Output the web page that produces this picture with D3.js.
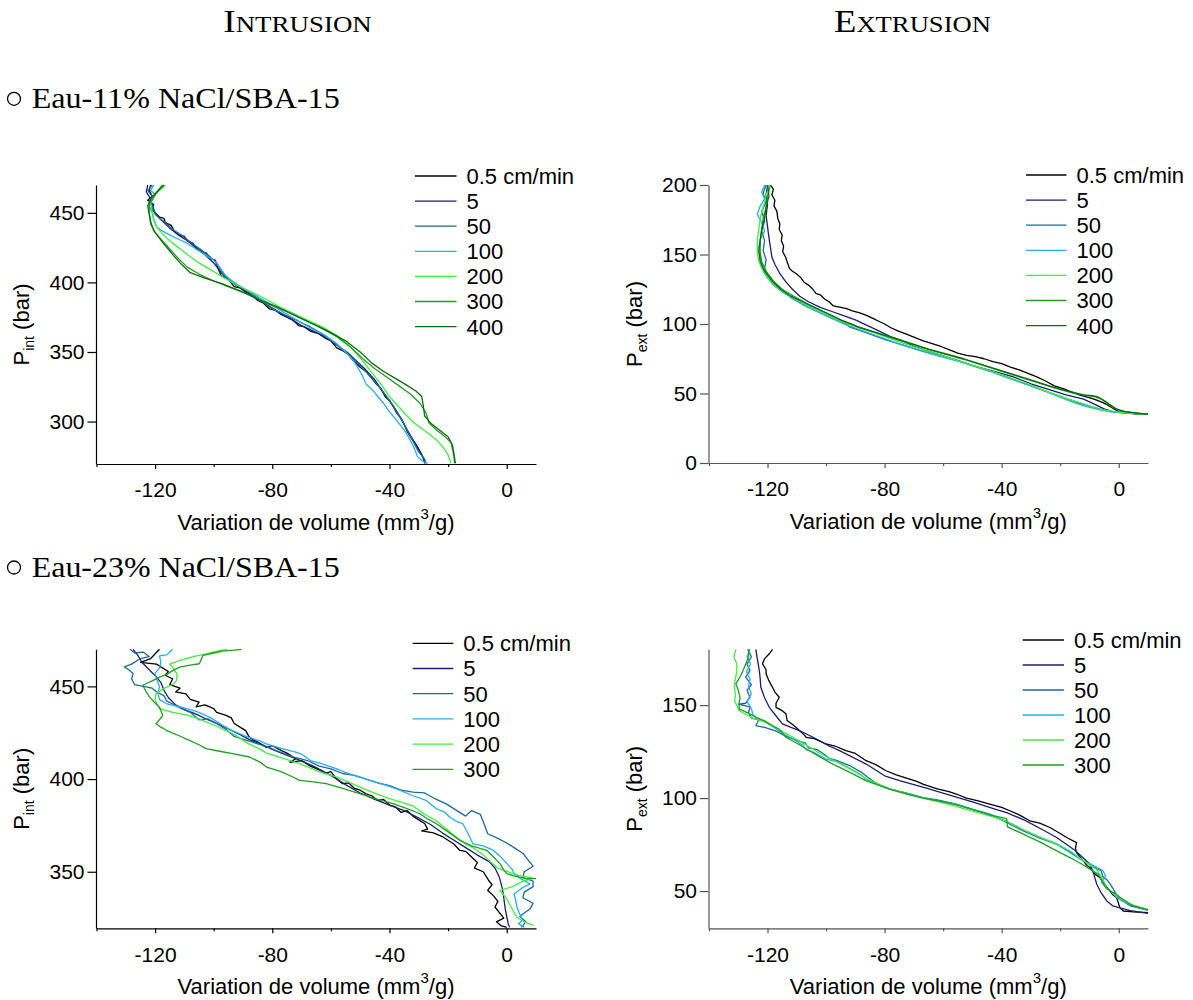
<!DOCTYPE html>
<html><head><meta charset="utf-8">
<script src="https://cdn.jsdelivr.net/npm/d3@7"></script>
<style>
body{margin:0;background:#fff}
svg{display:block}
</style>
</head><body>
<svg id="chart" width="1193" height="1000"></svg>
<script>
// ---------------- DATA ----------------
const speedLabels = ["0.5 cm/min","5","50","100","200","300","400"];
const xMajorTicks = [-120,-80,-40,0];
const xMinorTicks = [-140,-100,-60,-20];
const xDomain = [-140,10];
const yTicksIntru11 = [300,350,400,450];
const yTicksExtru11 = [0,50,100,150,200];
const yTicksIntru23 = [350,400,450];
const yTicksExtru23 = [50,100,150];
const yDomainIntru11 = [269.5,470];
const yDomainExtru11 = [0,200];
const yDomainIntru23 = [319.5,470];
const yDomainExtru23 = [30,180];

// Intrusion, Eau-11% NaCl  [volume variation, pressure]
const tl_05 = [[-121.5,470],[-122,466],[-121,462],[-122.5,459],[-120.5,456],[-121,452],[-119.5,449],[-118.5,447],[-117,446],[-116.5,443],[-114.5,441],[-113.5,437],[-112,434],[-110,433],[-109,430],[-107,428],[-106,424],[-104,422],[-102.5,421],[-101,417],[-99.5,416],[-98.5,410],[-97.5,405],[-95,402],[-93,397],[-91,396],[-89,393],[-87,391],[-85,387],[-83,385],[-81,381],[-79,380],[-77,377],[-75,375],[-73,373],[-71,369],[-69,368],[-67,365],[-64,363],[-62,360],[-60,358],[-58,353],[-56,351],[-54,348],[-52,343],[-50,339],[-48,336],[-46,331],[-44.5,327],[-43,324],[-41.5,318],[-40,315],[-38.5,310],[-37.5,306],[-36,302],[-35,298],[-34,293],[-32.5,288],[-31.5,285],[-30.5,282],[-29.5,278],[-28.5,274],[-28,270]];
const tl_5 = [[-122.5,470],[-123,465],[-121.5,460],[-121,455],[-120,450],[-118.5,446],[-117,443],[-115,439],[-112,434],[-109,430],[-106,425],[-103,420],[-100,414],[-97,406],[-94,400],[-90,395],[-86,390],[-82,384],[-78,379],[-74,374],[-70,369],[-66,365],[-62,361],[-58,355],[-54,349],[-51,343],[-48,337],[-45,330],[-42.5,322],[-40,315],[-38,309],[-36,302],[-34,294],[-32,287],[-30,280],[-28.5,274],[-27.5,270]];
const tl_50 = [[-121,470],[-122.5,466],[-121,462],[-122,458],[-120.5,453],[-120,449],[-118.5,446],[-116.5,443],[-114,438],[-111,434],[-108,429],[-106,426],[-104,423],[-101,418],[-99,414],[-97,407],[-95,402],[-92,398],[-88,393],[-84,387],[-80,381],[-76,377],[-72,373],[-67,368],[-63,363],[-59,357],[-55,350],[-52,344],[-49,338],[-46,331],[-43.5,325],[-41,318],[-39,312],[-37,305],[-35.5,300],[-34,294],[-32.5,288],[-31,282],[-30,278],[-28,273],[-27.5,270]];
const tl_100 = [[-120.5,470],[-121.5,466],[-120,463],[-121,459],[-122,455],[-121,450],[-120.5,445],[-119.5,440],[-117.5,437],[-115,434],[-112,431],[-109,428],[-106,424],[-103,420],[-100,416],[-98,411],[-96,405],[-93,400],[-90,396],[-86,391],[-82,386],[-78,381],[-74,376],[-70,371],[-66,366],[-62,362],[-58,356],[-55,350],[-52,343],[-49.5,334],[-48,327],[-45.5,322],[-44,318],[-42,313],[-40,307],[-38,302],[-36.5,298],[-35,294],[-33.5,289],[-32,283],[-31,278],[-30.5,275],[-29,272],[-27,270]];
const tl_200 = [[-116.5,470],[-118.5,466],[-120.5,462],[-121.5,457],[-121,452],[-120.5,446],[-119.5,440],[-117.5,435],[-115,430],[-112,425],[-109,420],[-105,414],[-101,409],[-97,404],[-93,399],[-88,394],[-83,389],[-78,383],[-73,378],[-68,373],[-63,368],[-58,362],[-54,355],[-50,346],[-46,335],[-43,327],[-40,318],[-37,311],[-34,304],[-31,298],[-27,292],[-24,287],[-21.5,281],[-20,276],[-19,270]];
const tl_300 = [[-117.5,470],[-119,466],[-120.5,461],[-122,456],[-122,450],[-121.5,444],[-120.5,437],[-118,431],[-115,424],[-112,417],[-109,411],[-105,406],[-100,401],[-94,396],[-88,391],[-82,385],[-76,380],[-70,374],[-64,368],[-58,361],[-53,353],[-49,345],[-45,338],[-41,332],[-37,326],[-33,320],[-29.5,313],[-27.5,306],[-26.5,299],[-24,294],[-21,289],[-19,285],[-18.5,280],[-18,275],[-17.8,270]];
const tl_400 = [[-117,470],[-119.5,465],[-121.5,460],[-122.5,455],[-122,449],[-121.5,442],[-120,436],[-117.5,429],[-114,420],[-111,413],[-108,407],[-103,403],[-97,399],[-91,394],[-85,388],[-79,383],[-73,377],[-67,371],[-61,365],[-55,358],[-50,350],[-46,342],[-42,336],[-38,331],[-34,326],[-31,322],[-29,318],[-28.5,312],[-28,304],[-26,299],[-23,294],[-20,289],[-18.5,283],[-18,277],[-17.5,270]];

// Extrusion, Eau-11% NaCl
const tr_05 = [[-119,200],[-118,197],[-118.5,193],[-117.5,189],[-117.8,185],[-116.8,181],[-116.5,176],[-115.8,172],[-116,168],[-115,164],[-115.3,160],[-114.5,156],[-114.8,152],[-113.8,148],[-113.2,144],[-112.5,140],[-111.5,138],[-110,136],[-108.5,133],[-107.5,130],[-106,128],[-104.5,125],[-103.5,122],[-102,121],[-100.5,118],[-99,116],[-97.5,113],[-95,112],[-93,111],[-91,109.5],[-88.5,108],[-86,106],[-84,104],[-82,102],[-80,100],[-78,97.5],[-75.5,95],[-73,93],[-70,90.5],[-67,88],[-64,86],[-61,84],[-58,81.5],[-55,79],[-52,77.5],[-49,76.5],[-46,75],[-43,73],[-40,71.5],[-37,69],[-34,67],[-31,64.5],[-28,62],[-25,59],[-22,55.5],[-19,53.5],[-16,51],[-13.5,49],[-11,47.5],[-8.5,46],[-6,44],[-4,42],[-2,39.5],[0,37],[3,36],[6,35.5],[10,35]];
const tr_5 = [[-120,200],[-120.5,193],[-120,186],[-120.5,178],[-120,170],[-119.5,162],[-119,155],[-118.5,148],[-117.5,143],[-116,137],[-114,131],[-111.5,125],[-109,120],[-106,116],[-102,112],[-98,109],[-94,106],[-90,103],[-86,99],[-82,95],[-78,91],[-74,88],[-70,84],[-66,81],[-60,77],[-54,73],[-48,69],[-42,65.5],[-36,62],[-30,57],[-24,53],[-18,49],[-12,46],[-8,42],[-5,39],[-2,37],[0,36.5],[5,35.5],[10,35]];
const tr_50 = [[-120.5,200],[-121.5,194],[-120.5,188],[-122,181],[-121,174],[-122,167],[-121,160],[-121.5,153],[-120.5,146],[-121,140],[-119.5,134],[-117.5,129],[-115,124],[-112,119],[-108,114],[-103,109],[-98,104],[-94,101],[-92,98],[-88,95],[-84,92],[-80,89],[-74,85],[-68,81],[-62,77.5],[-56,74.5],[-50,70],[-44,66],[-38,61.5],[-32,57],[-26,52.5],[-20,48],[-14,43.5],[-10,41],[-6,38.5],[-3,37],[0,36.5],[5,35.5],[10,35]];
const tr_100 = [[-121,200],[-122,195],[-121,190],[-122.5,185],[-123.5,179],[-122,173],[-121,167],[-122.5,161],[-123,155],[-122.5,149],[-122,143],[-121.5,138],[-120,133],[-118,128],[-115,123],[-111,118],[-106,112],[-100,106],[-94,100],[-88,95.5],[-82,91],[-76,86.5],[-70,82.5],[-64,78.5],[-58,75],[-52,71.5],[-46,67.5],[-40,63],[-34,58.5],[-28,54],[-22,49],[-16,44],[-11,40.5],[-6,38],[-3,37],[0,36.5],[10,35]];
const tr_200 = [[-119.5,200],[-120.5,192],[-121.5,184],[-122.5,176],[-123,168],[-123.5,160],[-123.5,152],[-123,145],[-121.5,138],[-119.5,132],[-116.5,126],[-113,121],[-108,115],[-102,109],[-96,103],[-90,98],[-84,94],[-78,89.5],[-72,85],[-66,81],[-60,77],[-54,73],[-48,69],[-42,65],[-36,60.5],[-30,56],[-24,51],[-18,46.5],[-12,42.5],[-7,39],[-3,37.5],[0,36.5],[10,35]];
const tr_300 = [[-119,200],[-120,192],[-120.5,184],[-121.5,176],[-122,168],[-122.5,160],[-122.5,152],[-122,145],[-120.5,138],[-118,131],[-115,125],[-111,120],[-106,114],[-100,108],[-94,102],[-88,97],[-82,93],[-76,89],[-70,85],[-64,81],[-58,77.5],[-52,74],[-46,70],[-40,66],[-34,62],[-28,58],[-22,54],[-16,50.5],[-11,48.5],[-8,47.5],[-6,46],[-4,43],[-2,40],[1,37.5],[5,36],[10,35]];
const tr_400 = [[-120,200],[-119.5,192],[-120.5,184],[-121,176],[-122,168],[-122.5,160],[-123,152],[-122.5,145],[-121,138],[-118.5,131],[-115.5,125],[-112,120],[-107,115],[-101,109],[-95,103],[-89,98],[-83,94],[-77,90],[-71,86],[-65,82],[-59,78.5],[-53,75],[-47,71],[-41,67],[-35,63],[-29,59],[-23,55],[-17,51.5],[-12,49],[-9,48.5],[-7,47.5],[-5,45],[-3,42],[-1,39],[2,37],[6,36],[10,35]];

// Intrusion, Eau-23% NaCl
const bl_05 = [[-118.5,470],[-121.5,465],[-125,463],[-119.5,462],[-117.5,460],[-115.5,458],[-116.5,456],[-114,454],[-115,451],[-111.5,449],[-113,447],[-109.5,446],[-108,443],[-105,441.5],[-106,439],[-103,440],[-100,438],[-99,436],[-96,434.5],[-94,433],[-93,430],[-91,428],[-89,426],[-88,423],[-86.5,421],[-85,420],[-82,417],[-80,418],[-77,415.5],[-75,414],[-72,411],[-74,409],[-70,410],[-67,407],[-64,405],[-62,403],[-60,404],[-58,400],[-56,397.5],[-54,398],[-52,395],[-50,394],[-48,392],[-46,391],[-44,388.5],[-42,389],[-40,386],[-38,385],[-36,382],[-34,383],[-32,380],[-30,378],[-28,376],[-27,373],[-29,372],[-25,371],[-22,369],[-20,367],[-18,365],[-16,361.5],[-14,361],[-12,358],[-10,355],[-11,352],[-8,350],[-6,345],[-5,343],[-6.5,340],[-4.5,337],[-3,334],[-4,331],[-2,327],[-1,325],[-3.5,323],[-2,321],[0,320]];
const bl_5 = [[-127.5,470],[-126,467],[-124.5,463],[-122,459],[-119.5,455],[-118,452],[-117,448],[-115.5,444],[-113,440],[-110,437.5],[-106,435],[-102,432],[-99,430],[-95,427],[-91,424],[-87.5,421],[-84,419],[-80,416],[-76,413.5],[-72,411],[-66,407],[-60,402],[-55,397],[-50,392.5],[-45,389],[-40,386],[-35,383],[-30,379],[-26,375.5],[-22,371],[-18,367],[-14,363],[-10,359],[-6,355.5],[-4,352],[-2.5,347],[-1.5,341],[-1,336],[-0.5,330],[0,326],[0.5,322],[1,320]];
const bl_50 = [[-128.5,470],[-127,468],[-124,468.5],[-122,466],[-125,465],[-128,462],[-130.5,460.5],[-129,459],[-127.5,457],[-128,454],[-127,451],[-124,450],[-121,449],[-119.5,447],[-117,445],[-116,442],[-114,440.5],[-111,438],[-108,436],[-105,432],[-102,432.5],[-99,430],[-96,427],[-93,423],[-89,421],[-85,419],[-82,417.5],[-78,415],[-73,412],[-68,410],[-64,407],[-60,405.5],[-56,403],[-52,402],[-48,400],[-44,398],[-40,396.5],[-36,394],[-32,393],[-28,392.5],[-24,389],[-20.5,386.5],[-17,383],[-14,380],[-12,383],[-9,381],[-7.5,375],[-6.5,370.5],[-3,368],[0,365.5],[2.5,363],[5.5,360],[7,357],[9,353],[6,350],[5.5,347],[9,345],[9,342],[6,339],[5.5,336],[9,333],[8,330],[4.5,326],[6.5,323],[5,320]];
const bl_100 = [[-114,470],[-116,467],[-118.5,466.5],[-118,463],[-118.5,460],[-120,457],[-119.5,454],[-118.5,450],[-119,446],[-118.5,443],[-116,440.5],[-111.5,439],[-108,437.5],[-105,436],[-101,433],[-97,429],[-93.5,426],[-89,423],[-85,421],[-82,419],[-77,416.5],[-72,414.5],[-70,413.5],[-67,410],[-63.5,408.5],[-58,405.5],[-54,403],[-50,401],[-45,398.5],[-40,396],[-36.5,394],[-32,391],[-27.5,388.5],[-24,384],[-21,382],[-19.5,379.5],[-17,377],[-15,376],[-13,370],[-11.5,365],[-8,364],[-4.5,361.5],[-2,358],[0,354.5],[2,351],[2.5,349],[5,346],[8,343.5],[5,341],[2.5,338],[3,335],[3.5,331],[4.5,327],[5.5,324],[4,322],[6,320]];
const bl_200 = [[-95.5,470],[-99,469],[-102.5,467.5],[-107,466],[-111.5,464],[-115,462],[-113.5,459],[-112.5,456.5],[-112.7,453],[-114,451],[-116.2,449.5],[-118,448],[-119.7,446],[-120,442.5],[-118.5,438],[-114,436],[-109,434.5],[-105,432.5],[-99,428.5],[-93.5,424.5],[-88,419],[-84,416],[-82,414],[-76,411],[-70.7,408.3],[-64,404],[-58,401],[-52,397],[-46,393],[-40,389.5],[-36,387.5],[-32,385.5],[-28,381],[-24,377.5],[-18.3,370.1],[-14,365],[-11.4,362.9],[-8,359],[-5.7,355.6],[-3,352],[0,350.2],[4,348],[9,346.6],[5,344.5],[2,342],[-2.3,339.9],[0,335.5],[1.5,331],[3.4,325.6],[6,323],[9.1,321.1]];
const bl_300 = [[-90.5,470],[-93,469.5],[-97,469],[-100,468],[-103.7,466.7],[-104.9,462.2],[-108,461.5],[-111.7,460.4],[-114,458.5],[-116,456.5],[-118.5,455],[-121,453],[-123.1,451.4],[-124.2,450.5],[-123,447],[-121.9,444.2],[-120,441],[-118.5,438.8],[-117.4,434.4],[-118.5,432],[-119.7,429.9],[-118,428],[-116.2,426.3],[-112,423.5],[-108.3,420.9],[-105,418.5],[-102.6,416.4],[-98,415],[-93.5,413.7],[-87.8,411.9],[-84,409],[-82,406.5],[-77,404],[-73,401.1],[-70.7,399.3],[-66,398.5],[-61.6,397.5],[-56,395],[-50.2,392.1],[-44,389],[-38.8,386.7],[-34,384],[-29.6,381.3],[-27,378.5],[-24,375.9],[-20,371.5],[-16,366.9],[-12,364],[-6.8,361.5],[-4.5,358],[-2.3,354.4],[-1,351],[0,349],[3,347.5],[6.8,346.3],[10,346.3]];

// Extrusion, Eau-23% NaCl
const br_05 = [[-118.3,180],[-119.4,177.6],[-121,175],[-121.7,172.2],[-120.5,169],[-120.5,166.8],[-119.5,163],[-118.3,159.6],[-117.5,157],[-116,154.2],[-117.1,151],[-117.1,148.8],[-115,147],[-113.7,145.3],[-113.3,141.7],[-111,139],[-109.1,136.3],[-107.5,134],[-106.8,132.7],[-104,132],[-100,129.1],[-97,128],[-93.2,125.5],[-90,124],[-86.3,120.1],[-83,118],[-79.5,114.7],[-76,112.5],[-72,110.5],[-69,109],[-66.9,107.5],[-62,105],[-58,103.5],[-55.5,102.2],[-52,100],[-48,98.5],[-44.1,96.8],[-40,95],[-37.2,93.2],[-34,91],[-30.4,87.8],[-27,86.5],[-23.5,84.2],[-20,81],[-17.8,78.8],[-14.4,76.1],[-14.8,73],[-14.4,70.7],[-13,68],[-12.1,66.2],[-11,64],[-9.8,62.6],[-8,59],[-6.4,57.2],[-5,54],[-3,50],[-2,48],[-0.7,46.4],[0,43],[0.4,41],[1.6,39.3],[5,38.8],[10,38.4]];
const br_5 = [[-124,180],[-123.5,175],[-122.8,168.6],[-122.5,164],[-122.3,159.6],[-121,154],[-119.4,148.8],[-117,144],[-114.9,139.9],[-112,138],[-109.1,136.3],[-105.5,133.5],[-102.3,130.9],[-99,128],[-95.4,125.5],[-91,122],[-86.3,118.3],[-80,112],[-74.9,109.4],[-66,105.5],[-58.9,102.2],[-50,98],[-42,94],[-38.3,92.2],[-32,88],[-26,83],[-21.2,78.8],[-15,72],[-9.8,64.4],[-8.5,59],[-7.5,53.7],[-6,49],[-4.1,44.7],[-2,42],[0.4,41],[4,39.5],[10,38]];
const br_50 = [[-126.8,180],[-125.5,176],[-127,172],[-126,168.5],[-127.5,165],[-125.5,161],[-127,158],[-126,154],[-127.5,151],[-130,150.5],[-126,149],[-126.5,146],[-125.5,143],[-123,142],[-124,139],[-121,138],[-117,136],[-113.5,133],[-110,131],[-107,129.5],[-106,127],[-103,126],[-101,124],[-99,121.5],[-96,120],[-92,117.5],[-88,114],[-86,111.5],[-82,107],[-78,104.8],[-72,102.5],[-66.9,100.3],[-62,99],[-55.5,96.8],[-50,94],[-44.1,91.4],[-38.3,86.9],[-32.6,82.4],[-27,78.5],[-21.2,75.2],[-16,70.5],[-12.1,66.2],[-9,63.5],[-7.5,62],[-6,61],[-5.5,58],[-4,56],[-3,54],[-2,51.5],[-1,48.5],[0,46],[4,42],[10,39.7]];
const br_100 = [[-126,180],[-127,176],[-125.8,172],[-127.2,168],[-126,164],[-126.5,160],[-125.5,156],[-127,152],[-125.5,148],[-125,145],[-123.5,142.6],[-121.5,141.5],[-118.3,138.5],[-115,135],[-111,131.5],[-108,128.5],[-106.8,126],[-104,124.5],[-100,121],[-96,119.5],[-92,116],[-88,112.5],[-86.3,110],[-82,107],[-78.3,104.8],[-72,102],[-66.9,100.3],[-60,98],[-55.5,96.8],[-50,94],[-44.1,91.4],[-38.3,87.5],[-32.6,83],[-27,79],[-21.2,75.2],[-16,70],[-12.1,66.2],[-9,64],[-6.5,62],[-5.3,60.8],[-4.5,58],[-6,55],[-5,53],[-4,51.5],[-3,50.5],[-1.5,48],[-0.7,46.4],[2,44],[6,41.5],[10,39.7]];
const br_200 = [[-130.8,180],[-131.5,176],[-130.5,172.2],[-130.5,168],[-131,164],[-131.4,160],[-131,156],[-131.2,152],[-130.2,149],[-129.7,147],[-128,145.5],[-125,143],[-121,141],[-118,138.5],[-114,135],[-110,131.5],[-106.8,128.5],[-102,124],[-97.7,120.5],[-92,116],[-86.3,110.5],[-82,107.5],[-78.3,105],[-72,102.3],[-66.9,100],[-60,97.5],[-55.5,95.5],[-50,93],[-44.1,90.5],[-38.3,87.5],[-32.6,83],[-27,79],[-21.2,75.5],[-16,71],[-12.1,66.5],[-9,63],[-7.5,61.5],[-5,55],[-4,51],[-2,49],[0,47],[4,43],[10,40]];
const br_300 = [[-126.3,180],[-126.5,176],[-127.4,172.2],[-128.5,168],[-129.5,165],[-130.8,161.4],[-130,158],[-129.4,154.2],[-129.7,151],[-129.7,148],[-127,146],[-124,143.5],[-121,141.5],[-118.3,139],[-116,137],[-113.7,132.7],[-110,129.5],[-106.8,126.5],[-102,122],[-97.7,118.3],[-92,114],[-86.3,109.3],[-82,107],[-78.3,104.8],[-72,102],[-66.9,100],[-60,98],[-55.5,96.3],[-50,94],[-44.1,91],[-38.3,89],[-38,84.5],[-32.6,80.6],[-27,76.5],[-21.2,71.6],[-16,67.5],[-12.1,64],[-9,61],[-7,59],[-5.5,55],[-4.5,52],[-3,50],[-1,48.5],[1,46],[5,42],[10,40]];

// ---------------- DRAWING ----------------
const seriesColors = ["#000000","#1c1c78","#1a6aa0","#27aef0","#3ef03e","#1fa01f","#0f6b12"];
const svg = d3.select("#chart");
const SANS = "'Liberation Sans', Arial, Helvetica, sans-serif";
const SERIF = "'Liberation Serif', 'Times New Roman', serif";

function drawPanel(p) {
  const x = d3.scaleLinear().domain(xDomain).range([p.left + 0.5, p.right]);
  const y = d3.scaleLinear().domain(p.yDomain).range([p.bottom, p.top]);
  const g = svg.append("g");

  // minor x ticks
  const gMinor = g.append("g").attr("transform", `translate(0,${p.bottom})`)
    .call(d3.axisBottom(x).tickValues(xMinorTicks).tickSize(3).tickFormat(""));
  gMinor.select(".domain").remove();
  // major x ticks
  const gx = g.append("g").attr("transform", `translate(0,${p.bottom})`)
    .call(d3.axisBottom(x).tickValues(xMajorTicks).tickSize(5).tickSizeOuter(0).tickPadding(13.5).tickFormat(d => String(d)));
  const gy = g.append("g").attr("transform", `translate(${p.left},0)`)
    .call(d3.axisLeft(y).tickValues(p.yTicks).tickSize(8.5).tickSizeOuter(0).tickPadding(3).tickFormat(d => String(d)));
  [gMinor, gx, gy].forEach(a => {
    a.attr("font-family", SANS).attr("font-size", 21);
    a.selectAll("path,line").attr("stroke", p.axisColor).attr("stroke-width", 1.2);
    a.selectAll("text").attr("fill", "#000");
  });

  // curves
  const line = d3.line().x(d => x(d[0])).y(d => y(d[1]));
  p.series.forEach((s, i) => {
    g.append("path").attr("d", line(s)).attr("fill", "none")
      .attr("stroke", seriesColors[i]).attr("stroke-width", 1.3)
      .attr("stroke-linejoin", "round");
  });

  // legend
  p.series.forEach((s, i) => {
    const ly = p.legY + i * p.legStep;
    g.append("line").attr("x1", p.legX1).attr("x2", p.legX2).attr("y1", ly).attr("y2", ly)
      .attr("stroke", seriesColors[i]).attr("stroke-width", 1.3);
    g.append("text").attr("x", p.legX2 + 10).attr("y", ly).attr("dy", "0.36em")
      .attr("font-family", SANS).attr("font-size", 22).text(speedLabels[i]);
  });

  // x label
  const xl = g.append("text").attr("x", (p.left + p.right) / 2).attr("y", p.bottom + 66)
    .attr("text-anchor", "middle").attr("font-family", SANS).attr("font-size", 22);
  xl.append("tspan").text("Variation de volume (mm");
  xl.append("tspan").attr("dy", -11).attr("font-size", 15).text("3");
  xl.append("tspan").attr("dy", 11).text("/g)");

  // y label
  const yl = g.append("text")
    .attr("transform", `translate(${p.left - 67},${(p.top + p.bottom) / 2}) rotate(-90)`)
    .attr("text-anchor", "middle").attr("font-family", SANS).attr("font-size", 22);
  yl.append("tspan").text("P");
  yl.append("tspan").attr("dy", 5).attr("font-size", 14).text(p.sub);
  yl.append("tspan").attr("dy", -5).text(" (bar)");
}

const leftCfg = {left: 96, right: 536, axisColor: "#000"};
const rightCfg = {left: 708.5, right: 1148, axisColor: "#555"};

drawPanel(Object.assign({}, leftCfg, {top: 185, bottom: 464, yDomain: yDomainIntru11, yTicks: yTicksIntru11,
  series: [tl_05, tl_5, tl_50, tl_100, tl_200, tl_300, tl_400], sub: "int",
  legX1: 415, legX2: 456.5, legY: 176, legStep: 25.1}));
drawPanel(Object.assign({}, rightCfg, {top: 185, bottom: 463, yDomain: yDomainExtru11, yTicks: yTicksExtru11,
  series: [tr_05, tr_5, tr_50, tr_100, tr_200, tr_300, tr_400], sub: "ext",
  legX1: 1026, legX2: 1066.5, legY: 175, legStep: 25.1}));
drawPanel(Object.assign({}, leftCfg, {top: 649.3, bottom: 928.3, yDomain: yDomainIntru23, yTicks: yTicksIntru23,
  series: [bl_05, bl_5, bl_50, bl_100, bl_200, bl_300], sub: "int",
  legX1: 412.7, legX2: 453.3, legY: 643.3, legStep: 25.2}));
drawPanel(Object.assign({}, rightCfg, {top: 649.3, bottom: 928.3, yDomain: yDomainExtru23, yTicks: yTicksExtru23,
  series: [br_05, br_5, br_50, br_100, br_200, br_300], sub: "ext",
  legX1: 1022.7, legX2: 1064, legY: 640, legStep: 25}));

// headings
function smallCaps(xStart, text, len) {
  const t = svg.append("text").attr("x", xStart).attr("y", 31.7)
    .attr("font-family", SERIF).attr("font-size", 31)
    .attr("textLength", len).attr("lengthAdjust", "spacingAndGlyphs");
  t.append("tspan").text(text[0]);
  t.append("tspan").attr("font-size", 22.5).text(text.slice(1));
}
smallCaps(223.3, "INTRUSION", 148.5);
smallCaps(834, "EXTRUSION", 157);

function sampleTitle(yBase, label) {
  svg.append("circle").attr("cx", 14).attr("cy", yBase - 9.5).attr("r", 6.5)
    .attr("fill", "none").attr("stroke", "#000").attr("stroke-width", 1.3);
  svg.append("text").attr("x", 31.7).attr("y", yBase)
    .attr("font-family", SERIF).attr("font-size", 30)
    .attr("textLength", 308).attr("lengthAdjust", "spacingAndGlyphs").text(label);
}
sampleTitle(108.3, "Eau-11% NaCl/SBA-15");
sampleTitle(577, "Eau-23% NaCl/SBA-15");
</script>
</body></html>
